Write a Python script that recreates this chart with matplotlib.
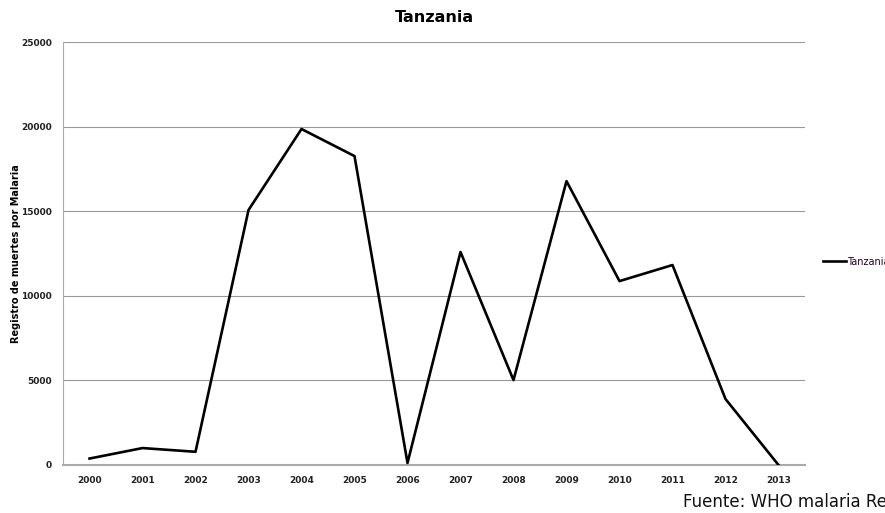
import matplotlib
matplotlib.use("Agg")
import matplotlib.pyplot as plt

# Datos
anios = ['2000', '2001', '2002', '2003', '2004', '2005', '2006',
         '2007', '2008', '2009', '2010', '2011', '2012', '2013']
muertes = [380, 1000, 780, 15070, 19860, 18260, 120,
           12590, 5020, 16780, 10870, 11820, 3900, 0]
y_ticks = [0, 5000, 10000, 15000, 20000, 25000]

fig = plt.figure(figsize=(8.85, 5.13), dpi=100)
ax = fig.add_axes([0.0712, 0.0936, 0.8384, 0.8244])

x = list(range(len(anios)))
ax.plot(x, muertes, color='black', linewidth=1.9, label='Tanzania', zorder=3)

ax.set_xlim(-0.5, len(anios) - 0.5)
ax.set_ylim(0, 25000)
ax.set_xticks(x)
ax.set_xticklabels(anios)
ax.set_yticks(y_ticks)
ax.set_yticklabels([str(v) for v in y_ticks])
ax.tick_params(length=0, labelsize=6.5, colors='#222222', pad=8)
for lbl in ax.get_xticklabels() + ax.get_yticklabels():
    lbl.set_fontweight('bold')

ax.grid(axis='y', color='#999999', linewidth=0.8)
ax.set_axisbelow(True)
for s in ['top', 'right']:
    ax.spines[s].set_visible(False)
ax.spines['left'].set_color('#aaaaaa')
ax.spines['bottom'].set_color('#aaaaaa')
ax.spines['bottom'].set_linewidth(1.5)

ax.set_ylabel('Registro de muertes por Malaria', fontsize=7, fontweight='bold')
ax.yaxis.set_label_coords(-0.056, 0.5)

fig.text(0.5 * (63 + 805) / 885, 1 - 17 / 513, 'Tanzania', fontsize=11.5,
         fontweight='bold', ha='center', va='center')

# leyenda
fig.legend(loc='center left', bbox_to_anchor=(0.92, 0.49), frameon=False,
           fontsize=7, handlelength=2.4, handletextpad=0.1, labelcolor='#220022')

fig.text(683 / 885, 1 - 502 / 513, 'Fuente: WHO malaria Report 2014', fontsize=12,
         va='center', ha='left', color='#111111')

fig.savefig('out.png', dpi=100)
